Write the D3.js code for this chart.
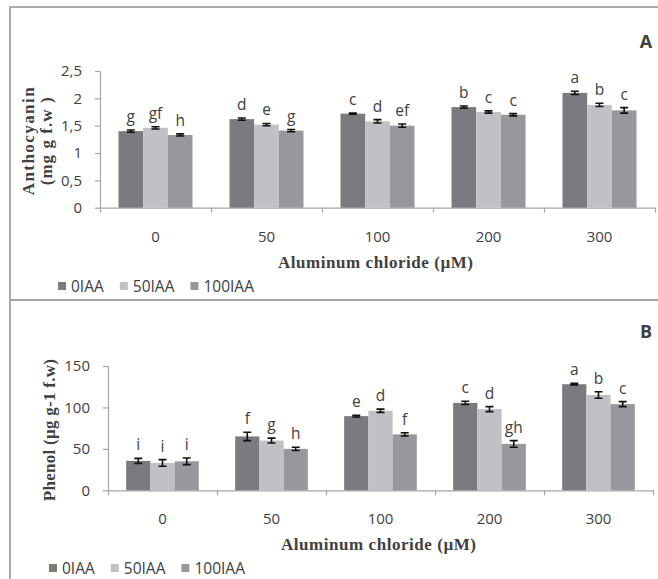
<!DOCTYPE html>
<html>
<head>
<meta charset="utf-8">
<script src="https://cdn.jsdelivr.net/npm/d3@7"></script>
<style>
  body { margin: 0; background: #fff; }
  text { fill: #404040; }
</style>
</head>
<body>
<svg id="chart" width="658" height="579"></svg>
<script>
// categories and series
var categories = ["0", "50", "100", "200", "300"];
var seriesNames = ["0IAA", "50IAA", "100IAA"];
var seriesColors = ["#7a7b7f", "#c0c1c5", "#97989c"];

// panel A - anthocyanin (mg g f.w)
var anthoValues = [
  [1.40, 1.62, 1.72, 1.84, 2.10],
  [1.46, 1.52, 1.58, 1.75, 1.88],
  [1.33, 1.41, 1.50, 1.70, 1.78]
];
var anthoErrors = [
  [0.02, 0.02, 0.01, 0.02, 0.03],
  [0.02, 0.02, 0.03, 0.02, 0.03],
  [0.02, 0.02, 0.03, 0.02, 0.05]
];
var anthoLetters = [
  ["g", "d", "c", "b", "a"],
  ["gf", "e", "d", "c", "b"],
  ["h", "g", "ef", "c", "c"]
];
var anthoTicks = [0, 0.5, 1, 1.5, 2, 2.5];

// panel B - phenol (ug g-1 f.w)
var phenolValues = [
  [35.5, 65, 89.5, 105.5, 128],
  [33, 60, 96, 98, 115],
  [35, 50, 67.5, 56, 104]
];
var phenolErrors = [
  [3, 5, 1, 2, 1],
  [4, 3, 2, 3, 4],
  [4, 2, 2, 4, 3]
];
var phenolLetters = [
  ["i", "f", "e", "c", "a"],
  ["i", "g", "d", "d", "b"],
  ["i", "h", "f", "gh", "c"]
];
var phenolTicks = [0, 50, 100, 150];

var svg = d3.select("#chart");

var panels = [
  {
    tag: "A", values: anthoValues, errors: anthoErrors, letters: anthoLetters,
    ticks: anthoTicks, fmt: function(d) { return String(d).replace(".", ","); },
    box: [10, 7, 300], x0: 100, x1: 655, y0: 207.7, yTop: 71,
    yTitle: ["Anthocyanin", "(mg g f.w )"], yTitleX: [28, 46], yTitleLen: [108, 88],
    legendX: 58, legendY: 286, tagY: 48
  },
  {
    tag: "B", values: phenolValues, errors: phenolErrors, letters: phenolLetters,
    ticks: phenolTicks, fmt: function(d) { return d; },
    box: [10, 300, 600], x0: 108, x1: 653, y0: 490.3, yTop: 366,
    yTitle: ["Phenol (\u00b5g g-1 f.w)"], yTitleX: [49], yTitleLen: [142],
    legendX: 49, legendY: 568, tagY: 338
  }
];

panels.forEach(function(p) {
  var g = svg.append("g");

  // panel frame
  g.append("rect")
    .attr("x", p.box[0]).attr("y", p.box[1])
    .attr("width", 700).attr("height", p.box[2] - p.box[1])
    .attr("fill", "none")
    .attr("stroke", "#a3a3a3")
    .attr("stroke-width", 1.8);

  var x = d3.scaleBand().domain(categories).range([p.x0, p.x1]);
  var barW = x.bandwidth() / 4.5;
  var xs = d3.scaleBand().domain(seriesNames)
    .range([(x.bandwidth() - 3 * barW) / 2, (x.bandwidth() + 3 * barW) / 2]);
  var y = d3.scaleLinear().domain([0, d3.max(p.ticks)]).range([p.y0, p.yTop]);

  // axes
  var yAxis = g.append("g")
    .attr("transform", "translate(" + p.x0 + ",0)")
    .call(d3.axisLeft(y).tickValues(p.ticks).tickFormat(p.fmt)
      .tickSize(5).tickSizeOuter(0).tickPadding(13));
  yAxis.selectAll("text").style("font-family", "'Open Sans', sans-serif")
    .style("font-size", "15px").attr("fill", "#404040");

  var xLin = d3.scaleLinear().domain([0, categories.length]).range([p.x0, p.x1]);
  g.append("g")
    .attr("transform", "translate(0," + p.y0 + ")")
    .call(d3.axisBottom(xLin).tickValues(d3.range(categories.length + 1))
      .tickFormat("").tickSize(5).tickSizeOuter(0));

  g.selectAll(".domain, .tick line").attr("stroke", "#a6a6a6").attr("stroke-width", 1.2);

  g.selectAll(".cat")
    .data(categories)
    .enter().append("text")
    .attr("x", function(d) { return x(d) + x.bandwidth() / 2; })
    .attr("y", p.y0 + 34)
    .attr("text-anchor", "middle")
    .style("font-family", "'Open Sans', sans-serif")
    .style("font-size", "15px")
    .text(function(d) { return d; });

  // bars
  seriesNames.forEach(function(s, si) {
    var sg = g.append("g");
    sg.selectAll("rect")
      .data(p.values[si])
      .enter().append("rect")
      .attr("x", function(d, i) { return x(categories[i]) + xs(s); })
      .attr("y", function(d) { return y(d); })
      .attr("width", xs.bandwidth())
      .attr("height", function(d) { return p.y0 - y(d); })
      .attr("fill", seriesColors[si]);

    // error bars
    var eb = sg.selectAll(".err")
      .data(p.values[si])
      .enter().append("g")
      .attr("transform", function(d, i) {
        return "translate(" + (x(categories[i]) + xs(s) + xs.bandwidth() / 2) + ",0)";
      });
    eb.append("path")
      .attr("d", function(d, i) {
        var e = p.errors[si][i];
        var t = y(d + e), b = y(d - e);
        return "M-4," + t + "H4M0," + t + "V" + b + "M-4," + b + "H4";
      })
      .attr("stroke", "#111")
      .attr("stroke-width", 1.6)
      .attr("fill", "none");

    // significance letters
    sg.selectAll(".lt")
      .data(p.values[si])
      .enter().append("text")
      .attr("x", function(d, i) { return x(categories[i]) + xs(s) + xs.bandwidth() / 2; })
      .attr("y", function(d, i) { return y(d + p.errors[si][i]) - 8; })
      .attr("text-anchor", "middle")
      .style("font-family", "'Open Sans', sans-serif")
      .style("font-size", "15.5px")
      .attr("fill", "#333")
      .text(function(d, i) { return p.letters[si][i]; });
  });

  // axis titles
  g.append("text")
    .attr("x", (p.x0 + p.x1) / 2 - 2)
    .attr("y", p.y0 + 54 + 6)
    .attr("text-anchor", "middle")
    .attr("textLength", 195)
    .attr("lengthAdjust", "spacing")
    .style("font-family", "'Liberation Serif', serif")
    .style("font-weight", "bold")
    .style("font-size", "17px")
    .attr("fill", "#222")
    .text("Aluminum chloride (\u00b5M)");

  var midY = (p.y0 + p.yTop) / 2 + 2;
  p.yTitle.forEach(function(t, i) {
    g.append("text")
      .attr("transform", "translate(" + p.yTitleX[i] + "," + midY + ") rotate(-90)")
      .attr("text-anchor", "middle")
      .attr("dy", "0.35em")
      .attr("textLength", p.yTitleLen[i])
      .attr("lengthAdjust", "spacing")
      .style("font-family", "'Liberation Serif', serif")
      .style("font-weight", "bold")
      .style("font-size", "17px")
      .attr("fill", "#222")
      .text(t);
  });

  // legend
  var lx = p.legendX;
  seriesNames.forEach(function(s, si) {
    g.append("rect")
      .attr("x", lx).attr("y", p.legendY - 4)
      .attr("width", 8).attr("height", 8)
      .attr("fill", seriesColors[si]);
    var t = g.append("text")
      .attr("x", lx + 13).attr("y", p.legendY + 5.5)
      .style("font-family", "'Open Sans', sans-serif")
      .style("font-size", "15.5px")
      .text(s);
    lx += 13 + t.node().getComputedTextLength() + 16;
  });

  // panel tag
  g.append("text")
    .attr("x", 646).attr("y", p.tagY)
    .attr("text-anchor", "middle")
    .style("font-family", "'Open Sans', sans-serif")
    .style("font-weight", "bold")
    .style("font-size", "18px")
    .attr("fill", "#1a1a1a")
    .text(p.tag);
});
</script>
</body>
</html>
